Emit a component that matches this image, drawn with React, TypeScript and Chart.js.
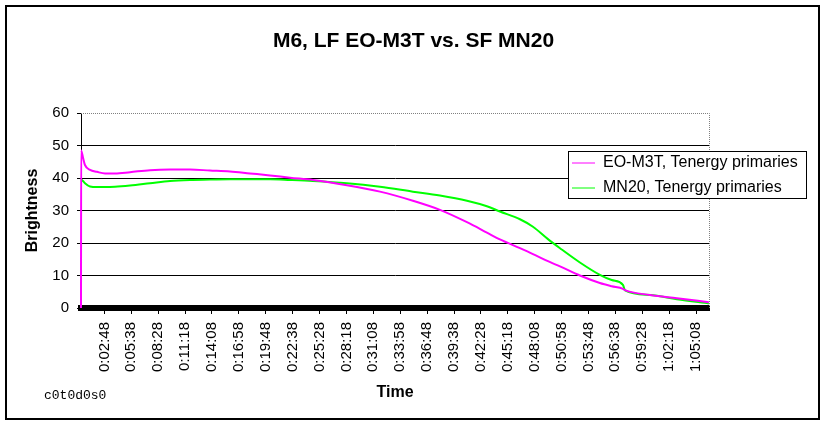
import { useEffect, useRef } from "react";
import { Chart, registerables } from "chart.js";

Chart.register(...registerables);

const TITLE = "M6, LF EO-M3T vs. SF MN20";
const SERIES_NAMES = ["EO-M3T, Tenergy primaries", "MN20, Tenergy primaries"];
const SERIES_COLORS = ["#FF00FF", "#00FF00"];

// elapsed time of each reading, in seconds
const SECONDS = [
  20, 21, 34, 45, 77, 121, 172, 235, 330, 456, 583, 709, 835, 962, 1088,
  1215, 1341, 1486, 1701, 1910, 2118, 2289, 2460, 2586, 2668, 2795, 2877,
  2972, 3048, 3174, 3300, 3375, 3446, 3459, 3617, 3787, 3989,
];
const EO_M3T = [
  0, 48.5, 46, 44, 42.5, 41.9, 41.4, 41.4, 41.8, 42.4, 42.6, 42.6, 42.3, 42.0,
  41.4, 40.8, 40.1, 39.4, 37.8, 35.8, 33.0, 30.2, 26.4, 23.2, 21.1, 18.4, 16.6,
  14.4, 12.8, 10.0, 7.7, 6.7, 5.9, 5.5, 4.0, 3.0, 1.8,
];
const MN20 = [
  null, 39.6, 39.0, 38.4, 37.4, 37.2, 37.2, 37.3, 37.7, 38.4, 39.1, 39.4, 39.5,
  39.6, 39.6, 39.6, 39.4, 39.1, 38.4, 37.3, 35.8, 34.6, 33.0, 31.3, 29.7, 27.3,
  25.0, 21.2, 18.4, 14.0, 10.2, 8.6, 7.1, 5.4, 4.0, 2.7, 1.4,
];

const TICK_LABELS = [
  "0:02:48", "0:05:38", "0:08:28", "0:11:18", "0:14:08", "0:16:58", "0:19:48",
  "0:22:38", "0:25:28", "0:28:18", "0:31:08", "0:33:58", "0:36:48", "0:39:38",
  "0:42:28", "0:45:18", "0:48:08", "0:50:58", "0:53:48", "0:56:38", "0:59:28",
  "1:02:18", "1:05:08",
];
const X_MIN = 20;
const X_MAX = 3990;
const Y_MIN = 0;
const Y_MAX = 60;
const Y_STEP = 10;

const toSeconds = (s: string) =>
  s.split(":").reduce((acc, p) => acc * 60 + Number(p), 0);
const TICK_SECONDS = TICK_LABELS.map(toSeconds);

const frame = {
  id: "frame",
  beforeDraw(chart: any) {
    const { ctx, width, height } = chart;
    ctx.save();
    ctx.fillStyle = "#fff";
    ctx.fillRect(0, 0, width, height);
    ctx.strokeStyle = "#000";
    ctx.lineWidth = 2;
    ctx.strokeRect(6, 6, 813, 413);
    ctx.restore();
  },
  beforeDatasetsDraw(chart: any) {
    // dotted plot-area border on top and right
    const { ctx, chartArea } = chart;
    ctx.save();
    ctx.strokeStyle = "#808080";
    ctx.lineWidth = 1;
    ctx.setLineDash([1, 1]);
    ctx.beginPath();
    ctx.moveTo(chartArea.left, chartArea.top + 0.5);
    ctx.lineTo(chartArea.right + 0.5, chartArea.top + 0.5);
    ctx.lineTo(chartArea.right + 0.5, chartArea.bottom);
    ctx.stroke();
    ctx.restore();
  },
  afterLayout(chart: any) {
    const legend = chart.legend;
    if (!legend) return;
    legend.left = 563;
    legend.top = 146;
    legend.right = 807;
    legend.bottom = 230;
    legend.width = legend.right - legend.left;
    legend.height = legend.bottom - legend.top;
  },
  afterDatasetsDraw(chart: any) {
    // legend box over the grid, then the legend on top of it
    const { ctx } = chart;
    ctx.save();
    ctx.fillStyle = "#fff";
    ctx.fillRect(568, 151, 239, 48);
    ctx.strokeStyle = "#000";
    ctx.lineWidth = 1;
    ctx.strokeRect(568.5, 151.5, 238, 47);
    ctx.restore();
    chart.legend && chart.legend.draw();
  },
  afterDraw(chart: any) {
    const { ctx } = chart;
    ctx.save();
    ctx.fillStyle = "#000";
    ctx.font = "13px 'Liberation Mono', monospace";
    ctx.textBaseline = "middle";
    ctx.fillText("c0t0d0s0", 44, 396);
    ctx.restore();
  },
};

export default function App() {
  const canvasRef = useRef<HTMLCanvasElement>(null);

  useEffect(() => {
    Chart.defaults.font.family = "'Liberation Sans', Arial, sans-serif";
    Chart.defaults.color = "#000";

    const chart = new Chart(canvasRef.current!, {
      type: "line",
      data: {
        datasets: [
          {
            label: SERIES_NAMES[0],
            data: SECONDS.map((t, i) => ({ x: t, y: EO_M3T[i] })),
            borderColor: SERIES_COLORS[0],
            backgroundColor: SERIES_COLORS[0],
            clip: 4,
          },
          {
            label: SERIES_NAMES[1],
            data: SECONDS.map((t, i) => ({ x: t, y: MN20[i] })),
            borderColor: SERIES_COLORS[1],
            backgroundColor: SERIES_COLORS[1],
            clip: 4,
          },
        ],
      },
      options: {
        animation: false,
        responsive: false,
        maintainAspectRatio: false,
        layout: { padding: 0 },
        elements: {
          point: { radius: 0 },
          line: { borderWidth: 2, cubicInterpolationMode: "monotone" },
        },
        plugins: {
          title: {
            display: true,
            text: TITLE,
            color: "#000",
            font: { size: 21, weight: "bold" },
            padding: { top: 29, bottom: 58.8 },
          },
          legend: {
            position: "chartArea",
            align: "start",
            labels: {
              usePointStyle: true,
              pointStyle: "line",
              pointStyleWidth: 23,
              padding: 9,
              color: "#000",
              font: { size: 16 },
            },
          },
          tooltip: { enabled: false },
        },
        scales: {
          x: {
            type: "linear",
            min: X_MIN,
            max: X_MAX,
            afterFit: (s: any) => {
              s.height = 118;
            },
            afterBuildTicks: (s: any) => {
              s.ticks = TICK_SECONDS.map((v) => ({ value: v }));
            },
            ticks: {
              autoSkip: false,
              minRotation: 90,
              maxRotation: 90,
              padding: 8,
              color: "#000",
              font: { size: 15 },
              callback: (_v: any, i: number) => TICK_LABELS[i],
            },
            grid: { drawOnChartArea: false, color: "#000", tickLength: 6 },
            border: { color: "#000", width: 6, z: -1 },
            title: {
              display: true,
              text: "Time",
              color: "#000",
              font: { size: 16, weight: "bold" },
              padding: { top: 0, bottom: 23.4 },
            },
          },
          y: {
            min: Y_MIN,
            max: Y_MAX,
            afterFit: (s: any) => {
              s.width = 81;
            },
            ticks: {
              stepSize: Y_STEP,
              padding: 8,
              color: "#000",
              font: { size: 15 },
            },
            grid: {
              color: (c: any) =>
                c.tick && c.tick.value === Y_MAX ? "rgba(0,0,0,0)" : "#000",
              tickColor: "#000",
              tickLength: 4,
            },
            border: { color: "#000", width: 1, z: -1 },
            title: {
              display: true,
              text: "Brightness",
              color: "#000",
              font: { size: 16, weight: "bold" },
              padding: { top: 23, bottom: 0 },
            },
          },
          // empty right-hand margin that holds the legend
          y2: {
            position: "right",
            afterFit: (s: any) => {
              s.width = 118;
            },
            ticks: { display: false },
            grid: { display: false },
            border: { display: false },
          },
        },
      },
      plugins: [frame],
    });

    return () => chart.destroy();
  }, []);

  return (
    <div style={{ position: "fixed", left: 0, top: 0, width: 827, height: 426 }}>
      <canvas
        ref={canvasRef}
        width={827}
        height={426}
        style={{ display: "block" }}
      ></canvas>
    </div>
  );
}
